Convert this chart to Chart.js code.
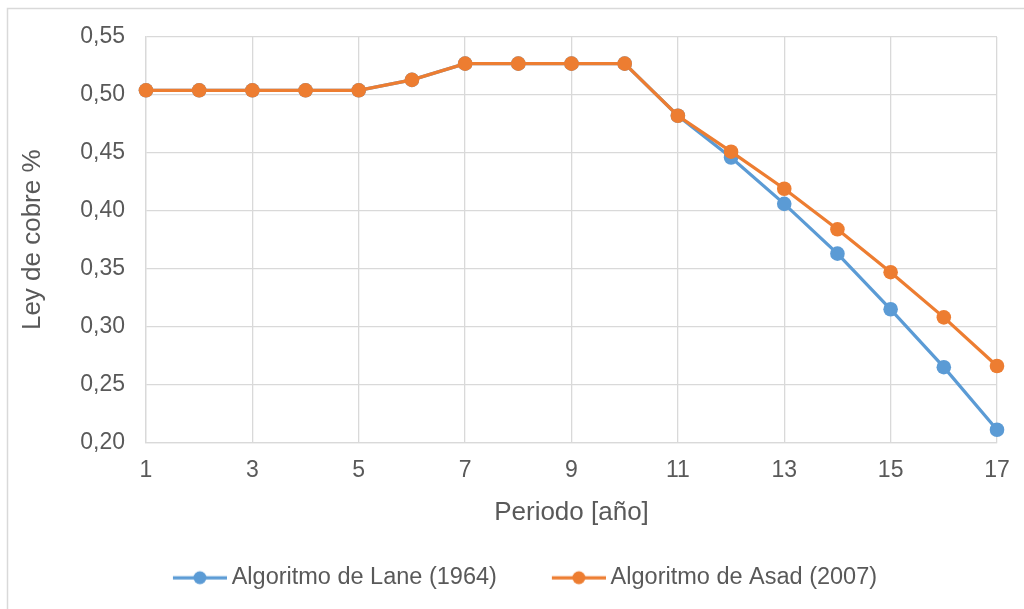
<!DOCTYPE html>
<html>
<head>
<meta charset="utf-8">
<script src="https://cdn.jsdelivr.net/npm/chart.js@4.4.1/dist/chart.umd.min.js"></script>
<style>
  html, body { margin: 0; padding: 0; background: #fff; overflow: hidden; }
</style>
</head>
<body>
<canvas id="chart" width="1024" height="609"></canvas>
<script>
// grade per period for both cut-off algorithms
var periods = [1, 2, 3, 4, 5, 6, 7, 8, 9, 10, 11, 12, 13, 14, 15, 16, 17];
var lane = [0.504, 0.504, 0.504, 0.504, 0.504, 0.513, 0.527, 0.527, 0.527, 0.527, 0.482, 0.446, 0.406, 0.363, 0.315, 0.265, 0.211];
var asad = [0.504, 0.504, 0.504, 0.504, 0.504, 0.513, 0.527, 0.527, 0.527, 0.527, 0.482, 0.451, 0.419, 0.384, 0.347, 0.308, 0.266];
var seriesNames = ['Algoritmo de Lane (1964)', 'Algoritmo de Asad (2007)'];
var seriesColors = ['#5B9BD5', '#ED7D31'];
var yMin = 0.20, yMax = 0.55, yStep = 0.05;
var xStep = 2;

var textColor = '#595959';
var gridColor = '#d9d9d9';
var fontFamily = '"Liberation Sans", Arial, sans-serif';

function points(values) {
  return periods.map(function (p, i) { return {x: p, y: values[i]}; });
}

// legend swatch: line with a dot in the middle, left part left blank for spacing
function legendMarker(color) {
  var c = document.createElement('canvas');
  c.width = 114; c.height = 16;
  var g = c.getContext('2d');
  g.strokeStyle = color;
  g.lineWidth = 3.25;
  g.beginPath(); g.moveTo(60, 8); g.lineTo(114, 8); g.stroke();
  g.fillStyle = color;
  g.beginPath(); g.arc(87, 8, 6.5, 0, Math.PI * 2); g.fill();
  return c;
}
var markers = seriesColors.map(legendMarker);

var frame = {
  id: 'frame',
  beforeDraw: function (chart) {
    var ctx = chart.ctx;
    ctx.save();
    ctx.fillStyle = '#fff';
    ctx.fillRect(0, 0, chart.width, chart.height);
    ctx.strokeStyle = gridColor;
    ctx.lineWidth = 1.5;
    ctx.strokeRect(7.5, 8.5, chart.width + 20, chart.height + 20);
    ctx.restore();
  }
};

new Chart(document.getElementById('chart'), {
  type: 'line',
  data: {
    datasets: [
      {label: seriesNames[0], data: points(lane), borderColor: seriesColors[0], backgroundColor: seriesColors[0],
       borderWidth: 3.25, pointRadius: 7.3, pointBorderWidth: 0, clip: false, order: 1},
      {label: seriesNames[1], data: points(asad), borderColor: seriesColors[1], backgroundColor: seriesColors[1],
       borderWidth: 3.25, pointRadius: 7.3, pointBorderWidth: 0, clip: false, order: 0}
    ]
  },
  options: {
    responsive: false,
    animation: false,
    devicePixelRatio: 1,
    layout: {padding: {top: 37, right: 27, bottom: 9.5, left: 0}},
    plugins: {
      tooltip: {enabled: false},
      legend: {
        position: 'bottom',
        labels: {
          usePointStyle: true,
          pointStyleWidth: 100,
          padding: 2,
          color: textColor,
          font: {family: fontFamily, size: 23.5},
          generateLabels: function (chart) {
            return chart.data.datasets.map(function (ds, i) {
              return {text: ds.label, pointStyle: markers[i], fontColor: textColor, datasetIndex: i, lineWidth: 0};
            });
          }
        }
      }
    },
    scales: {
      x: {
        type: 'linear',
        min: periods[0],
        max: periods[periods.length - 1],
        afterFit: function (s) { s.height = 121.5; },
        ticks: {stepSize: xStep, padding: 14, color: textColor, font: {family: fontFamily, size: 23}},
        grid: {color: gridColor, lineWidth: 1.3, drawTicks: false},
        border: {color: gridColor, width: 1.3},
        title: {display: true, text: 'Periodo [año]', color: textColor,
                font: {family: fontFamily, size: 26}, padding: {top: 0, bottom: 36}}
      },
      y: {
        min: yMin,
        max: yMax,
        afterFit: function (s) { s.width = 146; },
        ticks: {stepSize: yStep, padding: 21, color: textColor, font: {family: fontFamily, size: 23},
                callback: function (v) { return v.toFixed(2).replace('.', ','); }},
        grid: {color: gridColor, lineWidth: 1.3, drawTicks: false},
        border: {color: gridColor, width: 1.3},
        title: {display: true, text: 'Ley de cobre %', color: textColor,
                font: {family: fontFamily, size: 26}, padding: {top: 17.4, bottom: 0}}
      }
    }
  },
  plugins: [frame]
});
</script>
</body>
</html>
